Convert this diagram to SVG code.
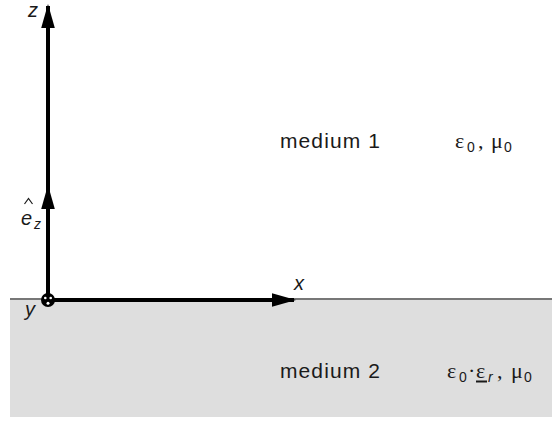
<svg xmlns="http://www.w3.org/2000/svg" width="552" height="421" viewBox="0 0 552 421">
<style>
.lbl{font-family:"Liberation Sans",Arial,sans-serif;font-size:21px;letter-spacing:1.1px;fill:#1a1a1a}
.ax{font-family:"Liberation Sans",Arial,sans-serif;font-size:20px;font-style:italic;fill:#1a1a1a}
.gr{font-family:"Liberation Serif","Times New Roman",serif;font-size:22px;fill:#1a1a1a}
.sub{font-family:"Liberation Sans",Arial,sans-serif;font-size:14px;fill:#1a1a1a}
.axis{stroke:#000;stroke-width:4;fill:none}
</style>
<defs>
<marker id="ah" markerWidth="6" markerHeight="4" refX="5.5" refY="2" orient="auto" markerUnits="strokeWidth" viewBox="0 0 6 4">
<path d="M0,0.3 L6,2 L0,3.7 z" fill="#000"/>
</marker>
</defs>
<g id="medium2-region">
<rect x="10" y="299" width="542" height="118" fill="#dedede"/>
<line x1="10" y1="299" x2="552" y2="299" stroke="#777" stroke-width="2"/>
</g>
<g id="connectors">
<line class="axis" x1="48" y1="300" x2="48" y2="6" marker-end="url(#ah)"/>
<line class="axis" x1="48" y1="300" x2="48" y2="187" marker-end="url(#ah)"/>
<line class="axis" x1="48" y1="300" x2="294" y2="300" marker-end="url(#ah)"/>
</g>
<g id="origin">
<circle cx="48" cy="300" r="7" fill="#000"/>
<circle cx="45.3" cy="298" r="1.3" fill="#fff"/>
<circle cx="50.7" cy="298" r="1.3" fill="#fff"/>
<circle cx="48" cy="303.2" r="1.5" fill="#fff"/>
</g>
<g id="labels">
<text class="ax" x="28" y="17" font-size="21">z</text>
<text class="ax" x="21" y="225" font-size="23">e</text>
<text class="sub" x="34" y="229" font-style="italic" font-size="15">z</text>
<path d="M24.5,204 L28.5,198.5 L32.5,204" stroke="#1a1a1a" stroke-width="1.2" fill="none"/>
<text class="ax" x="294" y="290">x</text>
<text class="ax" x="25" y="316">y</text>
</g>
<g id="medium1">
<text class="lbl" x="280" y="148">medium 1</text>
<text class="gr" y="148"><tspan x="455">ε</tspan><tspan class="sub" x="467" y="152">0</tspan><tspan x="478" y="148">,</tspan><tspan x="491">μ</tspan><tspan class="sub" x="504" y="152">0</tspan></text>
</g>
<g id="medium2">
<text class="lbl" x="280" y="378">medium 2</text>
<text class="gr" y="378"><tspan x="447">ε</tspan><tspan class="sub" x="459" y="382">0</tspan><tspan x="468" y="378">·</tspan><tspan x="476">ε</tspan><tspan class="sub" x="488" y="382" font-style="italic">r</tspan><tspan x="497" y="378">,</tspan><tspan x="511">μ</tspan><tspan class="sub" x="524" y="382">0</tspan></text>
<line x1="476" y1="381.5" x2="487" y2="381.5" stroke="#1a1a1a" stroke-width="2"/>
</g>
</svg>
